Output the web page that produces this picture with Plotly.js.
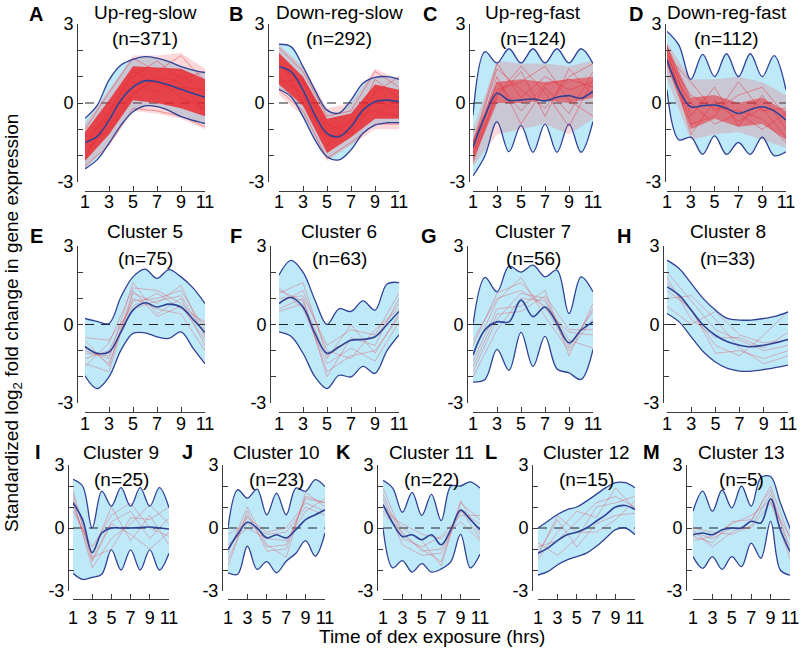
<!DOCTYPE html>
<html>
<head>
<meta charset="utf-8">
<script src="https://cdn.plot.ly/plotly-3.0.1.min.js"></script>
<style>
  html, body { margin: 0; padding: 0; background: #fff; }
  #chart { width: 800px; height: 654px; }
</style>
</head>
<body>
<div id="chart"></div>
<script>
// fitted curve grid (hours) and measured time points
const hours = [1, 2, 3, 4, 5, 6, 7, 8, 9, 10, 11];
const sampleHours = [1, 3, 5, 7, 9, 11];
const xTicks = [1, 3, 5, 7, 9, 11];
const yTicks = [-3, -2, -1, 0, 1, 2, 3];
const yTickText = ['-3', '', '', '0', '', '', '3'];

// A: Up-reg-slow
const A_hi = [-0.58, -0.1, 0.87, 1.44, 1.66, 1.76, 1.7, 1.57, 1.38, 1.25, 1.15];
const A_mean = [-1.5, -1.28, -0.65, 0.11, 0.6, 0.84, 0.81, 0.68, 0.52, 0.36, 0.22];
const A_lo = [-2.5, -2.16, -1.53, -0.84, -0.33, -0.11, -0.14, -0.29, -0.52, -0.66, -0.78];
const A_outLo = [-2.5, -1.6, -0.3, -0.4, -0.6, -1.0];
const A_outHi = [-0.8, 0.5, 1.8, 1.8, 1.9, 1.3];
const A_coreLo = [-2.2, -1.2, 0.1, 0.0, -0.2, -0.5];
const A_coreHi = [-1.1, 0.1, 1.4, 1.35, 1.3, 0.9];
const A_genes = [
  [-1.0, 0.4, 1.7, 1.2, 1.8, 0.8], [-2.4, -1.6, -0.2, -0.3, -0.5, -0.9],
  [-1.6, -0.3, 1.0, 1.6, 0.9, 1.2], [-1.9, -0.9, 0.4, 0.9, 0.2, -0.2],
  [-1.3, -0.6, 0.8, 0.4, 1.1, 0.3], [-2.1, -0.4, 1.2, 0.7, 0.6, 0.5],
  [-1.5, -1.1, 0.3, 1.0, 0.8, -0.4]
];

// B: Down-reg-slow
const B_hi = [2.23, 2.14, 1.38, 0.49, -0.27, -0.38, 0.11, 0.75, 0.97, 1.0, 0.9];
const B_mean = [1.38, 1.19, 0.49, -0.46, -1.15, -1.28, -0.9, -0.27, 0.05, 0.11, 0.05];
const B_lo = [0.52, 0.24, -0.52, -1.4, -2.04, -2.16, -1.78, -1.15, -0.84, -0.75, -0.75];
const B_outLo = [0.3, -0.5, -2.2, -1.6, -1.0, -1.0];
const B_outHi = [2.2, 1.4, -0.2, 0.0, 1.3, 0.9];
const B_coreLo = [0.7, -0.1, -1.9, -1.3, -0.6, -0.6];
const B_coreHi = [1.9, 1.0, -0.6, -0.4, 0.7, 0.5];
const B_genes = [
  [2.1, 1.2, -0.5, -0.3, 1.2, 0.6], [0.5, -0.3, -2.1, -1.5, -0.8, -0.8],
  [1.4, 0.8, -1.0, -0.8, 0.4, 1.0], [1.0, 0.3, -1.6, -0.6, -0.3, -0.5],
  [1.7, 0.0, -1.3, -1.1, 0.9, 0.2], [0.8, 0.9, -0.8, -1.2, 0.1, -0.2]
];

// C: Up-reg-fast
const C_hi = [-0.46, 1.95, 1.52, 2.06, 1.52, 2.06, 1.52, 2.06, 1.52, 2.06, 1.5];
const C_mean = [-1.68, -0.5, 0.37, 0.1, 0.12, 0.15, 0.08, 0.22, 0.28, 0.18, 0.45];
const C_lo = [-2.77, -2.0, -0.72, -1.85, -0.85, -1.87, -0.8, -1.87, -0.8, -1.87, -0.7];
const C_outLo = [-2.4, -1.2, -1.0, -0.8, -1.2, -0.6];
const C_outHi = [-1.0, 1.6, 1.5, 1.5, 1.4, 1.6];
const C_coreLo = [-2.2, 0.0, 0.0, 0.1, 0.0, 0.2];
const C_coreHi = [-1.4, 0.8, 0.9, 0.8, 0.9, 1.0];
const C_genes = [
  [-1.5, 1.5, 0.2, 1.0, 0.5, 0.8], [-2.1, 0.2, 1.2, -0.5, 1.3, 0.3],
  [-1.8, 1.0, -0.8, 0.6, -0.4, 1.2], [-2.3, 0.5, 0.8, 1.4, 0.1, -0.5],
  [-1.6, 1.3, 0.5, -0.2, 1.0, 1.5], [-2.0, 0.8, -0.3, 0.7, 0.9, 0.6],
  [-1.9, 0.3, 1.4, 0.4, -0.9, 0.9]
];

// D: Down-reg-fast
const D_hi = [2.72, 2.2, 0.9, 1.85, 1.0, 1.87, 1.0, 1.87, 1.0, 1.8, 0.5];
const D_mean = [1.64, 0.5, -0.14, -0.1, -0.08, -0.2, -0.4, -0.25, -0.14, -0.3, -0.65];
const D_lo = [0.5, -1.4, -1.3, -1.95, -1.25, -1.95, -1.5, -1.95, -1.3, -2.0, -1.85];
const D_outLo = [0.9, -1.4, -1.2, -1.1, -1.4, -1.7];
const D_outHi = [2.3, 0.9, 0.9, 1.0, 0.8, 0.3];
const D_coreLo = [1.4, -1.0, -0.6, -0.9, -0.8, -1.4];
const D_coreHi = [2.2, 0.2, 0.3, 0.0, 0.2, -0.3];
const D_genes = [
  [1.8, 0.8, -0.3, 0.3, 0.6, -0.5], [2.1, -1.2, 0.1, -0.7, -0.2, -1.3],
  [1.5, 0.0, -0.8, -0.4, -1.0, -0.4], [2.2, -0.5, 0.6, -0.9, 0.3, -1.0],
  [1.7, 0.3, -0.2, -0.3, -0.6, -1.5], [1.9, -0.8, -0.5, 0.8, -0.3, -0.2]
];

// E: Cluster 5
const E_hi = [0.23, 0.12, 0.04, 1.06, 1.82, 2.12, 1.76, 2.1, 1.82, 1.4, 0.8];
const E_mean = [-0.85, -1.1, -1.05, -0.28, 0.55, 0.83, 0.67, 0.78, 0.67, 0.2, -0.3];
const E_lo = [-1.96, -2.45, -2.0, -0.98, -0.34, -0.32, -0.47, -0.53, -0.28, -0.9, -1.5];
const E_genes = [
  [-1.5, -1.8, 1.2, 0.8, 1.5, -0.5], [-0.5, -0.6, 0.7, 1.2, 0.6, 0.1],
  [-1.0, -1.3, 1.6, 0.4, 1.0, -0.8], [-1.3, -1.0, 0.9, 1.0, 1.3, -0.2],
  [-0.8, -1.5, 1.0, 0.6, 0.4, -1.0], [-1.6, -0.7, 1.4, 1.3, 0.8, 0.0],
  [-1.1, -1.2, 0.6, 0.9, 1.1, -0.4], [-0.6, -1.6, 1.3, 0.3, 0.7, -0.6]
];

// F: Cluster 6
const F_hi = [1.89, 2.45, 2.0, 0.93, 0.0, 0.6, 0.5, 0.9, 0.55, 1.55, 1.6];
const F_mean = [0.8, 1.03, 0.67, -0.34, -1.1, -0.85, -0.6, -0.57, -0.47, 0.0, 0.5];
const F_lo = [-0.28, -0.45, -1.1, -2.0, -2.45, -1.94, -2.0, -1.6, -1.87, -1.0, -0.4];
const F_genes = [
  [1.2, 1.6, -1.2, -0.6, -0.5, 0.8], [0.5, 0.8, -1.8, -1.2, -1.0, 0.3],
  [1.0, 1.1, -0.8, -0.2, -0.4, 1.2], [1.4, 0.6, -1.5, -0.9, -1.4, 0.1],
  [0.8, 1.3, -1.0, -1.3, -0.2, 0.6], [0.6, 1.0, -2.0, -0.5, -0.8, 1.0],
  [1.3, 0.9, -1.3, 0.0, -1.1, 0.4]
];

// G: Cluster 7
const G_hi = [0.0, 1.8, 1.25, 2.23, 2.0, 2.27, 1.82, 2.08, 0.42, 1.82, 1.25];
const G_mean = [-1.17, -0.2, 0.1, 0.1, 0.93, 0.3, 0.67, 0.04, -0.7, -0.22, 0.1];
const G_lo = [-2.2, -2.1, -0.95, -1.75, -0.3, -1.6, -0.45, -1.7, -1.85, -2.1, -0.95];
const G_genes = [
  [-1.8, 0.2, 1.2, 1.0, -0.8, 0.5], [-0.8, 1.2, 1.6, 0.6, -0.3, -0.4],
  [-1.4, 0.6, 0.7, 1.3, -1.2, 0.8], [-2.0, -0.2, 1.0, 0.9, -0.6, -0.9],
  [-1.1, 0.9, 1.8, 0.3, -1.0, 0.2], [-1.6, 0.4, 0.5, 1.1, -0.2, -0.2],
  [-0.6, 1.0, 1.3, 0.7, -0.9, 0.6]
];

// H: Cluster 8
const H_hi = [2.46, 2.14, 1.57, 0.99, 0.55, 0.23, 0.17, 0.17, 0.23, 0.32, 0.48];
const H_mean = [1.44, 1.12, 0.55, -0.03, -0.41, -0.66, -0.79, -0.85, -0.79, -0.7, -0.57];
const H_lo = [0.42, 0.1, -0.47, -1.04, -1.43, -1.68, -1.78, -1.78, -1.72, -1.64, -1.55];
const H_genes = [
  [2.0, 0.9, -0.2, -0.6, -1.0, -0.8], [1.6, 0.5, -0.8, -1.2, -0.4, 0.5],
  [1.0, 1.1, 0.2, -0.9, -1.5, -1.2], [1.8, 0.2, -0.5, -0.5, -0.9, -0.3],
  [1.3, 0.6, -1.1, -1.0, -1.3, -1.0], [0.7, 0.0, 0.5, -0.4, -0.7, -0.6]
];

// I: Cluster 9
const I_hi = [2.32, 2.0, 0.0, 1.76, 1.04, 1.92, 1.04, 1.92, 1.04, 1.92, 0.96];
const I_mean = [1.2, 0.4, -1.17, -0.24, 0.0, 0.0, 0.0, 0.02, 0.05, 0.0, -0.05];
const I_lo = [-2.16, -2.45, -2.35, -2.2, -1.04, -2.0, -1.04, -2.0, -1.04, -2.0, -1.2];
const I_genes = [
  [1.8, -1.5, 0.3, 0.8, -0.5, 0.5], [1.0, -1.2, 1.0, -0.6, 0.6, -0.8],
  [1.4, -1.9, -0.5, 0.2, 1.1, 0.2], [0.8, -0.9, 0.6, 1.2, 0.0, -0.4],
  [1.6, -1.4, -1.0, 0.5, 0.4, 1.0], [1.2, -1.6, 0.2, -0.3, -1.0, -0.2]
];

// J: Cluster 10
const J_hi = [0.0, 1.82, 1.42, 1.85, 0.63, 1.66, 0.63, 1.9, 1.75, 2.3, 1.97];
const J_mean = [-1.03, -0.3, 0.27, 0.0, -0.47, -0.32, -0.47, -0.08, 0.4, 0.63, 0.87];
const J_lo = [-2.13, -2.2, -0.87, -1.97, -1.6, -2.13, -1.58, -1.2, -0.6, -1.34, -0.24];
const J_genes = [
  [-1.8, 0.8, -1.1, -1.0, 1.5, 1.2], [-0.3, 0.2, -0.3, -0.2, 1.0, 0.6],
  [-1.2, 1.0, -0.8, -1.4, 1.7, 1.0], [-0.8, 0.0, -0.5, -0.6, 0.8, 1.4],
  [-1.5, 0.5, -0.2, 0.0, 1.2, 0.8], [-1.0, 0.6, -0.9, -0.8, 1.4, 1.2]
];

// K: Cluster 11
const K_hi = [2.27, 1.9, 0.75, 1.7, 0.6, 1.6, 0.35, 2.0, 2.0, 2.2, 1.9];
const K_mean = [1.12, 0.24, -0.4, -0.32, -0.56, -0.32, -0.8, -0.08, 0.85, 0.4, -0.08];
const K_lo = [0.0, -1.9, -1.55, -2.1, -1.7, -2.1, -1.95, -1.6, -0.3, -1.9, -1.25];
const K_genes = [
  [1.9, -0.3, -1.0, -1.6, 1.2, 0.4], [0.8, 0.2, -0.3, -0.5, 0.3, -0.6],
  [1.4, -0.8, -1.3, -1.2, 0.8, 0.2], [1.1, 0.0, -0.6, -1.8, 1.3, -0.3],
  [1.6, -0.5, -0.9, -0.4, 0.6, 0.6], [0.7, -0.2, -1.1, -1.0, 0.9, -0.5]
];

// L: Cluster 12
const L_hi = [0.0, 0.32, 0.64, 0.88, 1.0, 1.28, 1.6, 1.92, 2.16, 2.16, 1.92];
const L_mean = [-1.2, -0.96, -0.6, -0.32, -0.2, 0.0, 0.32, 0.64, 1.0, 1.07, 0.88];
const L_lo = [-2.24, -2.08, -1.76, -1.52, -1.36, -1.2, -0.88, -0.48, -0.08, 0.0, -0.32];
const L_genes = [
  [-1.5, -0.2, 0.8, 0.5, 1.9, 0.9], [-0.7, -1.3, -0.5, 1.0, 1.2, 1.5],
  [-1.2, 0.4, -0.9, 0.2, 0.6, 0.7], [-0.9, -0.6, 0.3, 1.2, 1.5, 1.0],
  [-1.3, 0.6, -0.2, -0.2, 0.4, 1.3]
];

// M: Cluster 13
const M_hi = [0.8, 1.76, 0.8, 1.81, 0.96, 2.0, 1.04, 2.4, 2.45, 1.2, 0.0];
const M_mean = [-0.32, -0.24, -0.32, -0.08, 0.0, 0.0, 0.32, 0.24, 1.39, -0.08, -1.12];
const M_lo = [-1.36, -1.92, -1.36, -1.97, -1.36, -1.84, -0.72, -1.44, 0.32, -2.0, -2.24];
const M_genes = [
  [-0.1, -0.9, -0.2, 0.3, 2.0, -0.5], [-0.6, -0.4, 0.2, 0.6, 1.3, -1.5],
  [0.0, -0.2, -0.3, 0.1, 1.6, -0.9], [-0.4, -0.7, 0.3, 0.4, 1.8, -1.2],
  [-0.2, -0.5, 0.0, 0.0, 1.2, -0.4]
];

const FONT = '"Liberation Sans", Arial, Helvetica, sans-serif';
const BAND = 'rgb(190,233,248)';
const BLUE = 'rgb(48,66,150)';
const AXIS = '#3a3a3a';
const OUTER = 'rgba(240,90,100,0.24)';
const GENE_DENSE = 'rgba(236,40,50,0.45)';
const GENE_LIGHT = 'rgba(226,80,92,0.38)';

const W = 800, H = 654;
const fx = p => p / W;
const fy = p => 1 - p / H;

// pixel box: [x=1, x=11, y=3, y=-3, y-axis line x, x-axis line y]
const panels = [
  {tag: 'A', name: 'Up-reg-slow', n: 371, hi: A_hi, mean: A_mean, lo: A_lo, genes: A_genes, outer: [A_outLo, A_outHi], core: [A_coreLo, A_coreHi], coreAlpha: 0.8, box: [85, 205, 24, 182, 77, 191], letter: [36, 14], ty: [13, 39], standoff: -6},
  {tag: 'B', name: 'Down-reg-slow', n: 292, hi: B_hi, mean: B_mean, lo: B_lo, genes: B_genes, outer: [B_outLo, B_outHi], core: [B_coreLo, B_coreHi], coreAlpha: 0.8, box: [279, 399, 24, 182, 268, 191], letter: [236, 14], ty: [13, 39], standoff: -6},
  {tag: 'C', name: 'Up-reg-fast', n: 124, hi: C_hi, mean: C_mean, lo: C_lo, genes: C_genes, outer: [C_outLo, C_outHi], core: [C_coreLo, C_coreHi], coreAlpha: 0.5, box: [473, 593, 24, 182, 469, 191], letter: [430, 14], ty: [13, 39], standoff: -6},
  {tag: 'D', name: 'Down-reg-fast', n: 112, hi: D_hi, mean: D_mean, lo: D_lo, genes: D_genes, outer: [D_outLo, D_outHi], core: [D_coreLo, D_coreHi], coreAlpha: 0.5, box: [667, 786, 24, 182, 665, 191], letter: [636, 14], ty: [13, 39], standoff: -6},
  {tag: 'E', name: 'Cluster 5', n: 75, hi: E_hi, mean: E_mean, lo: E_lo, genes: E_genes, box: [85, 205, 246, 403, 77, 412], letter: [36, 236], ty: [232, 258], standoff: -5},
  {tag: 'F', name: 'Cluster 6', n: 63, hi: F_hi, mean: F_mean, lo: F_lo, genes: F_genes, box: [279, 399, 246, 403, 270, 412], letter: [236, 236], ty: [232, 258], standoff: -5},
  {tag: 'G', name: 'Cluster 7', n: 56, hi: G_hi, mean: G_mean, lo: G_lo, genes: G_genes, box: [473, 593, 246, 403, 467, 412], letter: [429, 236], ty: [232, 258], standoff: -5},
  {tag: 'H', name: 'Cluster 8', n: 33, hi: H_hi, mean: H_mean, lo: H_lo, genes: H_genes, box: [667, 788, 246, 403, 663, 412], letter: [624, 236], ty: [232, 258], standoff: -5},
  {tag: 'I', name: 'Cluster 9', n: 25, hi: I_hi, mean: I_mean, lo: I_lo, genes: I_genes, box: [73, 169, 465, 591, 68, 599], letter: [38, 452], ty: [452, 479], standoff: 2},
  {tag: 'J', name: 'Cluster 10', n: 23, hi: J_hi, mean: J_mean, lo: J_lo, genes: J_genes, box: [228, 325, 465, 591, 222, 599], letter: [187, 452], ty: [452, 479], standoff: 2},
  {tag: 'K', name: 'Cluster 11', n: 22, hi: K_hi, mean: K_mean, lo: K_lo, genes: K_genes, box: [383, 480, 465, 591, 377, 599], letter: [343, 452], ty: [452, 479], standoff: 2},
  {tag: 'L', name: 'Cluster 12', n: 15, hi: L_hi, mean: L_mean, lo: L_lo, genes: L_genes, box: [538, 635, 465, 591, 532, 599], letter: [491, 452], ty: [452, 479], standoff: 2},
  {tag: 'M', name: 'Cluster 13', n: 5, hi: M_hi, mean: M_mean, lo: M_lo, genes: M_genes, box: [693, 790, 465, 591, 686, 599], letter: [651, 452], ty: [452, 479], standoff: 2}
];

const data = [];
const annotations = [];
const layout = {
  width: W,
  height: H,
  margin: {l: 0, r: 0, t: 0, b: 0},
  showlegend: false,
  paper_bgcolor: '#ffffff',
  plot_bgcolor: 'rgba(0,0,0,0)',
  font: {family: FONT, size: 18, color: '#000'},
  annotations: annotations
};

function spline(y, xa, ya, extra) {
  return Object.assign({
    x: hours, y: y, xaxis: xa, yaxis: ya, type: 'scatter', mode: 'lines',
    hoverinfo: 'skip', line: {width: 0, shape: 'spline', smoothing: 1}
  }, extra);
}

// filled strip between two series at the measured time points
function strip(lo, hi, xa, ya, color) {
  data.push({x: sampleHours, y: lo, xaxis: xa, yaxis: ya, type: 'scatter',
    mode: 'lines', hoverinfo: 'skip', line: {width: 0}});
  data.push({x: sampleHours, y: hi, xaxis: xa, yaxis: ya, type: 'scatter',
    mode: 'lines', hoverinfo: 'skip', line: {width: 0}, fill: 'tonexty', fillcolor: color});
}

panels.forEach((p, i) => {
  const k = i === 0 ? '' : String(i + 1);
  const xa = 'x' + k, ya = 'y' + k;
  const [x0, x1, yTop, yBot, yLine, xLine] = p.box;

  layout['xaxis' + k] = {
    domain: [fx(x0), fx(x1)], range: [1, 11], anchor: 'free', position: fy(xLine),
    tickvals: xTicks, ticktext: xTicks.map(String), tickangle: 0,
    ticks: 'inside', ticklen: 5, tickcolor: AXIS, showline: true, linecolor: AXIS,
    linewidth: 1, showgrid: false, zeroline: false, fixedrange: true,
    ticklabelstandoff: p.standoff, tickfont: {size: 18}
  };
  layout['yaxis' + k] = {
    domain: [fy(yBot), fy(yTop)], range: [-3, 3], anchor: 'free', position: fx(yLine),
    tickvals: yTicks, ticktext: yTickText,
    ticks: 'inside', ticklen: 5, tickcolor: AXIS, showline: true, linecolor: AXIS,
    linewidth: 1, showgrid: false, zeroline: false, fixedrange: true,
    tickfont: {size: 18}
  };

  // confidence band
  data.push(spline(p.lo, xa, ya));
  data.push(spline(p.hi, xa, ya, {fill: 'tonexty', fillcolor: BAND}));

  // zero reference
  data.push({
    x: [1, 11], y: [0, 0], xaxis: xa, yaxis: ya, type: 'scatter', mode: 'lines',
    hoverinfo: 'skip', line: {color: '#222', width: 1.2, dash: '9px,7px'}
  });

  // individual genes
  const dense = !!p.core;
  if (dense) {
    strip(p.outer[0], p.outer[1], xa, ya, OUTER);
    strip(p.core[0], p.core[1], xa, ya, 'rgba(236,32,38,' + p.coreAlpha + ')');
  }
  p.genes.forEach(g => {
    data.push({
      x: sampleHours, y: g, xaxis: xa, yaxis: ya, type: 'scatter', mode: 'lines',
      hoverinfo: 'skip', line: {color: dense ? GENE_DENSE : GENE_LIGHT, width: 1}
    });
  });

  // band edges and mean curve
  data.push(spline(p.lo, xa, ya, {line: {color: BLUE, width: 1.3, shape: 'spline', smoothing: 1}}));
  data.push(spline(p.hi, xa, ya, {line: {color: BLUE, width: 1.3, shape: 'spline', smoothing: 1}}));
  data.push(spline(p.mean, xa, ya, {line: {color: BLUE, width: 1.6, shape: 'spline', smoothing: 1}}));

  const cx = fx((x0 + x1) / 2);
  annotations.push({xref: 'paper', yref: 'paper', x: cx, y: fy(p.ty[0]), text: p.name,
    showarrow: false, xanchor: 'center', yanchor: 'middle', font: {size: 19}});
  annotations.push({xref: 'paper', yref: 'paper', x: cx, y: fy(p.ty[1]), text: '(n=' + p.n + ')',
    showarrow: false, xanchor: 'center', yanchor: 'middle', font: {size: 19}});
  annotations.push({xref: 'paper', yref: 'paper', x: fx(p.letter[0]), y: fy(p.letter[1]),
    text: '<b>' + p.tag + '</b>', showarrow: false, xanchor: 'center', yanchor: 'middle',
    font: {size: 20}});
});

annotations.push({
  xref: 'paper', yref: 'paper', x: fx(13), y: fy(323), textangle: -90,
  text: 'Standardized log<sub>2</sub> fold change in gene expression',
  showarrow: false, xanchor: 'center', yanchor: 'middle', font: {size: 19}
});
annotations.push({
  xref: 'paper', yref: 'paper', x: fx(432), y: fy(636),
  text: 'Time of dex exposure (hrs)',
  showarrow: false, xanchor: 'center', yanchor: 'middle', font: {size: 19}
});

Plotly.newPlot('chart', data, layout, {displayModeBar: false, staticPlot: true});
</script>
</body>
</html>
